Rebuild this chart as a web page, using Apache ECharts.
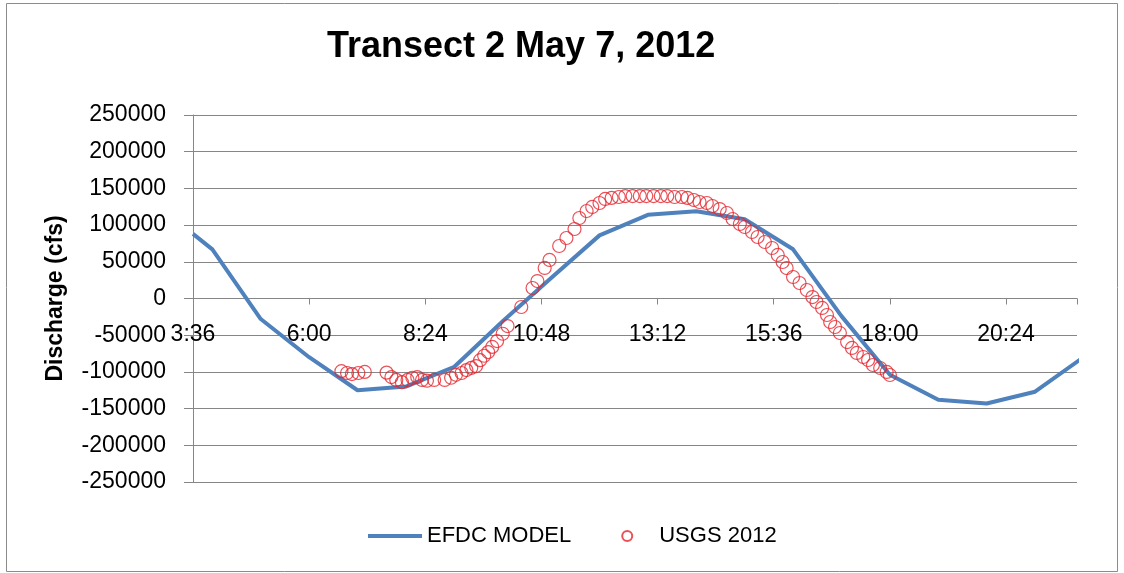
<!DOCTYPE html>
<html><head><meta charset="utf-8">
<script src="https://cdn.jsdelivr.net/npm/echarts@6/dist/echarts.min.js"></script>
<style>html,body{margin:0;padding:0;background:#fff}#c{width:1124px;height:573px}</style>
</head><body><div id="c"></div>
<script>
// ---- data ----
const chartTitle = 'Transect 2 May 7, 2012';
const yAxisName = 'Discharge (cfs)';
const xTickLabels = ['3:36','6:00','8:24','10:48','13:12','15:36','18:00','20:24'];
const xAxisStart = '3:36';
const xAxisEnd = '21:52';
const yMin = -250000, yMax = 250000, yStep = 50000;

const modelName = 'EFDC MODEL';
const modelTimes = ['3:36','4:00','5:00','6:00','7:00','8:00','9:00','10:00','11:00','12:00','13:00','14:00','15:00','16:00','17:00','18:00','19:00','20:00','21:00','22:00'];
const modelDischarge = [88000,67000,-28000,-80000,-125000,-120000,-93000,-31000,28000,86000,114000,119000,108000,67000,-24000,-104000,-138000,-143000,-127000,-80000];

const usgsName = 'USGS 2012';
const usgsTimes = ['6:40','6:47','6:53','7:01','7:09',
  '7:36','7:42','7:48','7:55','8:02','8:08','8:14','8:20','8:26','8:35','8:48','8:56','9:02','9:09','9:15','9:21','9:27','9:32','9:37','9:42','9:47','9:53','10:00','10:06',
  '10:23','10:37','10:43','10:52','10:58','11:10','11:19','11:29','11:35','11:44','11:51','12:00','12:07','12:15','12:24','12:32','12:41','12:50','12:58','13:07','13:16','13:24','13:33','13:42','13:49','13:57',
  '14:04','14:13','14:20','14:29','14:38','14:45','14:54','15:00','15:09','15:16','15:25','15:34','15:41','15:47','15:52','16:00','16:08','16:17','16:24','16:29','16:36','16:42','16:46','16:52','16:58',
  '17:07','17:13','17:19','17:27','17:33','17:39','17:48','17:56','18:00'];
const usgsDischarge = [-99000,-101500,-103000,-101500,-100000,
  -101000,-107000,-111000,-114000,-111000,-108000,-107000,-111000,-112000,-111000,-111000,-108000,-104000,-101500,-97500,-94500,-92000,-84000,-78000,-73000,-66000,-58000,-48000,-37500,
  -11600,14300,23800,41600,52500,71500,82400,94700,109700,119200,124700,130100,135600,137000,138300,139600,139600,139600,139600,139600,139600,139600,138300,138300,137000,134200,
  131500,130100,126000,121900,116500,108300,101500,97400,90600,83800,77000,68800,59300,49700,41500,29300,21100,11600,2000,-4800,-12900,-22500,-32000,-38800,-47000,
  -59300,-67400,-74200,-79700,-83800,-90600,-94700,-100100,-104200];

// ---- helpers ----
function toMin(t){ const p = t.split(':'); return (+p[0])*60 + (+p[1]); }
function fmtMin(m){ const h = Math.floor(m/60), mm = Math.round(m - h*60); return h + ':' + (mm<10?'0':'') + mm; }
const offset = toMin(xAxisStart);
const stepMin = toMin(xTickLabels[1]) - toMin(xTickLabels[0]);
const modelData = modelTimes.map((t,i)=>[toMin(t)-offset, modelDischarge[i]]);
const usgsData = usgsTimes.map((t,i)=>[toMin(t)-offset, usgsDischarge[i]]);

const gridTop = 115, gridBottom = 91, H = 573;
const gridHeight = H - gridTop - gridBottom;
// place the horizontal axis line where y = 0 (Excel "axis crosses at 0")
const xAxisShift = -gridHeight * (0 - yMin) / (yMax - yMin);

const font = '"Liberation Sans", Arial, sans-serif';
const chart = echarts.init(document.getElementById('c'), null, {renderer:'canvas'});
chart.setOption({
  backgroundColor:'#ffffff',
  animation:false,
  title:{ text: chartTitle, left: 322, top: 24,
    textStyle:{ fontFamily: font, fontWeight:'bold', fontSize:36, color:'#000' } },
  graphic:[{ type:'rect', shape:{x:6.5,y:3.5,width:1111,height:568}, style:{fill:'none', stroke:'#8c8c8c', lineWidth:1}, silent:true }],
  grid:{ left:193, right:47, top:gridTop, bottom:gridBottom },
  legend:{ left:363, top:520, itemWidth:54, itemHeight:10, itemGap:50,
    textStyle:{ fontFamily: font, fontSize:22, color:'#000' },
    data:[ {name:modelName, icon:'path://M0,0L54,0L54,4L0,4Z', itemStyle:{color:'#4f81bd'}}, {name:usgsName} ] },
  xAxis:{ type:'value', min:0, max: toMin(xAxisEnd)-offset, interval: stepMin, offset: xAxisShift,
    axisLine:{ show:true, onZero:false, lineStyle:{color:'#868686', width:1} },
    axisTick:{ show:true, length:6, lineStyle:{color:'#868686'} },
    splitLine:{ show:false },
    axisLabel:{ margin:25, fontFamily: font, fontSize:23, color:'#000',
      formatter: v => { const k = v/stepMin; return Math.abs(k-Math.round(k))<1e-6 ? fmtMin(v+offset) : ''; } } },
  yAxis:{ type:'value', min:yMin, max:yMax, interval:yStep,
    name: yAxisName, nameLocation:'middle', nameGap:126, nameRotate:90,
    nameTextStyle:{ fontFamily: font, fontWeight:'bold', fontSize:23, color:'#000' },
    axisLine:{ show:true, onZero:false, lineStyle:{color:'#868686'} },
    axisTick:{ show:true, length:9, lineStyle:{color:'#868686'} },
    splitLine:{ show:true, lineStyle:{color:'#868686', width:1} },
    axisLabel:{ margin:27, fontFamily: font, fontSize:23, color:'#000', formatter: v => String(v) } },
  series:[
    { name:modelName, type:'line', data:modelData, showSymbol:false, symbol:'none', clip:true,
      lineStyle:{ color:'#4f81bd', width:4 }, itemStyle:{color:'#4f81bd'}, z:2 },
    { name:usgsName, type:'scatter', data:usgsData, symbol:'circle', symbolSize:13, clip:true,
      itemStyle:{ color:'rgba(255,255,255,0)', borderColor:'#e3262e', borderWidth:1.2 }, z:3 }
  ]
});
</script></body></html>
